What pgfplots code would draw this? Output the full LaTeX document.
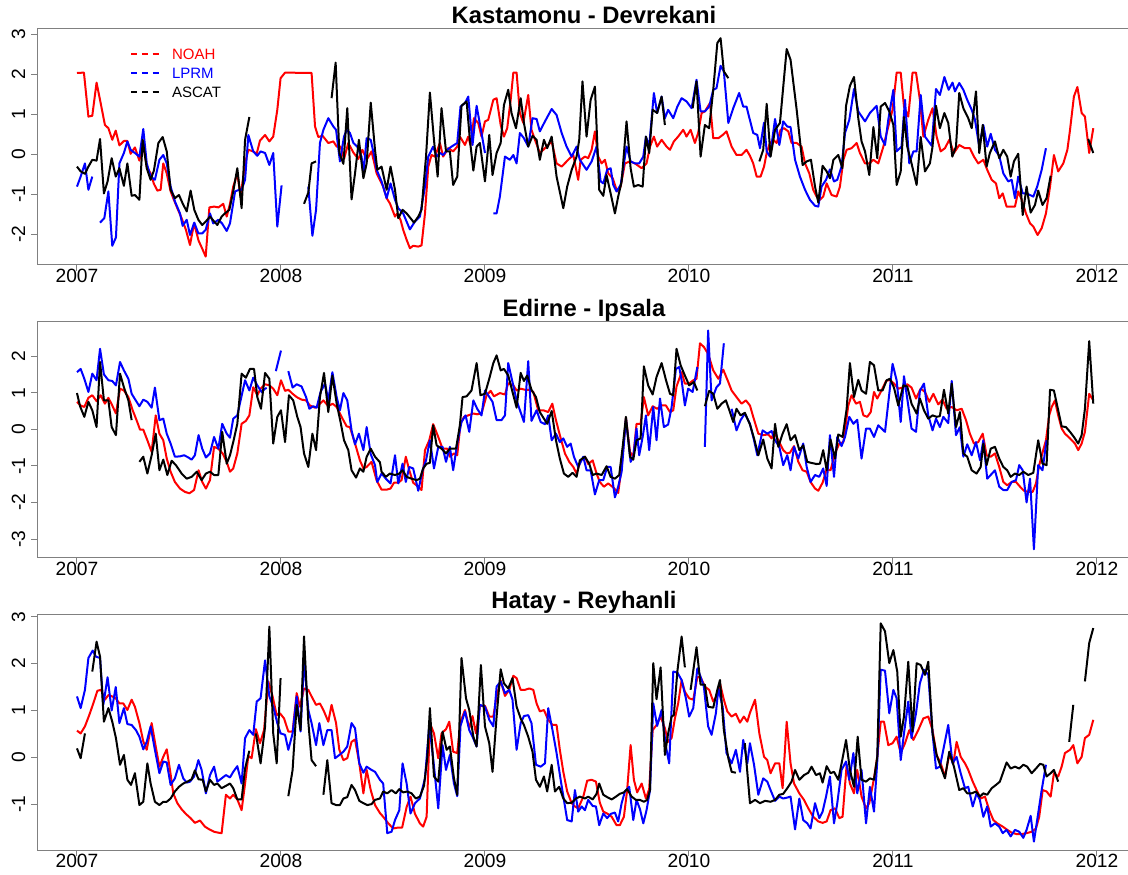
\documentclass[border=0pt]{standalone}
\usepackage{fontspec}
\setmainfont{Liberation Sans}
\usepackage{pgfplots}
\usepackage{pgfplotstable}
\pgfplotsset{compat=1.18}

% ---------------- Panel A: Kastamonu - Devrekani ----------------
\pgfplotstableread[row sep=\\]{x y\\
2007.000 2.03\\2007.034 2.04\\2007.056 0.94\\2007.075 0.96\\2007.096 1.79\\2007.116 1.28\\2007.137 0.73\\2007.154 0.65\\2007.173 0.36\\2007.190 0.59\\2007.208 0.22\\2007.230 0.33\\2007.247 0.33\\2007.263 0.01\\2007.284 0.17\\2007.306 -0.16\\2007.322 0.32\\2007.342 -0.31\\2007.361 -0.48\\2007.377 -0.74\\2007.394 -0.91\\2007.410 -0.89\\2007.423 -0.23\\2007.440 -0.48\\2007.459 -0.93\\2007.475 -1.14\\2007.492 -1.35\\2007.513 -1.60\\2007.534 -1.89\\2007.554 -2.27\\2007.574 -1.73\\2007.596 -2.16\\2007.613 -2.35\\2007.631 -2.56\\2007.649 -1.33\\2007.672 -1.31\\2007.694 -1.33\\2007.717 -1.24\\2007.734 -1.56\\2007.750 -1.24\\2007.766 -0.81\\2007.786 -0.48\\2007.802 -1.06\\2007.824 -0.23\\2007.840 0.11\\2007.864 0.07\\2007.881 0.01\\2007.897 0.34\\2007.922 0.48\\2007.943 0.32\\2007.962 0.44\\2007.982 1.11\\2007.998 1.90\\2008.020 2.04\\2008.150 2.03\\2008.167 0.69\\2008.183 0.43\\2008.204 0.46\\2008.232 0.28\\2008.257 0.32\\2008.273 0.19\\2008.292 0.19\\2008.309 -0.12\\2008.330 0.28\\2008.355 0.04\\2008.379 -0.12\\2008.399 0.11\\2008.420 -0.14\\2008.444 0.07\\2008.469 -0.48\\
2008.501 -0.81\\2008.518 -1.10\\2008.534 -1.23\\2008.559 -1.56\\2008.570 -1.48\\2008.586 -1.64\\2008.599 -1.89\\2008.616 -2.14\\2008.632 -2.35\\2008.648 -2.29\\2008.673 -2.31\\2008.689 -2.28\\2008.706 -1.48\\2008.722 -0.31\\2008.738 -0.02\\2008.755 -0.06\\2008.779 0.28\\2008.795 -0.06\\2008.820 0.15\\2008.844 0.07\\2008.864 0.19\\2008.877 0.44\\2008.902 0.23\\2008.918 0.44\\2008.929 0.23\\2008.946 0.90\\2008.967 0.78\\2008.983 0.44\\2009.000 0.82\\2009.016 0.86\\2009.041 1.36\\2009.057 1.40\\2009.077 0.73\\2009.093 0.44\\2009.109 0.65\\2009.126 1.36\\2009.139 2.04\\2009.155 2.04\\2009.171 1.03\\2009.188 0.78\\2009.212 1.48\\2009.228 0.61\\2009.245 0.36\\2009.269 0.03\\2009.286 0.11\\2009.302 0.19\\2009.327 0.32\\2009.351 -0.23\\2009.376 -0.31\\2009.408 -0.14\\2009.433 -0.02\\2009.457 -0.64\\2009.469 -0.14\\2009.490 -0.06\\2009.506 -0.10\\2009.523 0.11\\2009.539 0.57\\2009.555 -0.06\\2009.572 -0.23\\2009.588 -0.14\\2009.604 -0.48\\2009.626 -0.60\\2009.648 -0.93\\2009.665 -0.81\\2009.686 -0.23\\2009.711 -0.18\\2009.735 -0.23\\2009.768 -0.35\\2009.792 -0.23\\2009.809 0.19\\2009.828 0.44\\2009.844 0.19\\2009.866 0.36\\2009.890 0.19\\2009.907 0.11\\2009.926 0.32\\2009.947 0.44\\2009.972 0.61\\2009.988 0.44\\2010.008 0.61\\2010.029 0.28\\2010.045 0.53\\2010.062 1.03\\2010.078 1.07\\2010.103 1.28\\2010.119 0.40\\2010.144 0.40\\2010.165 0.48\\2010.184 0.57\\2010.209 0.19\\2010.233 -0.02\\2010.258 -0.02\\2010.282 0.11\\2010.299 -0.04\\
2010.315 -0.23\\2010.332 -0.56\\2010.351 -0.56\\2010.368 -0.31\\2010.381 0.03\\2010.397 0.28\\2010.413 0.36\\2010.430 0.28\\2010.449 0.61\\2010.466 0.65\\2010.487 0.57\\2010.503 0.28\\2010.528 0.28\\2010.552 0.19\\2010.569 -0.23\\2010.590 -0.48\\2010.609 -0.89\\2010.626 -1.06\\2010.642 -1.14\\2010.658 -1.06\\2010.675 -0.73\\2010.699 -1.02\\2010.724 -1.06\\2010.740 -0.81\\2010.757 -0.14\\2010.773 0.11\\2010.797 0.15\\2010.822 0.28\\2010.838 0.03\\2010.863 -0.23\\2010.884 -0.23\\2010.904 -0.14\\2010.928 -0.23\\2010.953 0.19\\2010.977 0.69\\2010.998 1.11\\2011.018 2.04\\2011.038 2.04\\2011.054 1.19\\2011.075 0.94\\2011.096 2.04\\2011.113 2.04\\2011.132 1.36\\2011.149 0.44\\2011.173 0.86\\2011.194 1.15\\2011.214 0.44\\2011.234 0.07\\2011.255 0.15\\2011.276 0.36\\2011.299 0.03\\2011.325 0.23\\2011.353 0.15\\2011.377 0.15\\2011.397 -0.06\\2011.418 -0.23\\2011.443 -0.14\\2011.462 -0.39\\2011.484 -0.64\\2011.505 -0.73\\2011.521 -1.10\\2011.538 -0.98\\2011.557 -1.31\\2011.574 -1.31\\2011.598 -1.31\\2011.614 -0.93\\2011.631 -1.14\\2011.652 -1.48\\2011.672 -1.73\\2011.688 -1.81\\2011.709 -2.02\\2011.729 -1.85\\2011.750 -1.48\\2011.770 -0.81\\2011.789 -0.02\\2011.810 -0.43\\2011.835 -0.23\\2011.855 0.11\\2011.868 0.61\\2011.887 1.44\\2011.904 1.68\\2011.925 1.03\\2011.941 0.94\\2011.962 0.03\\2011.982 0.65\\
}\pAn

\pgfplotstableread[row sep=\\]{x y\\
2007.000 -0.81\\2007.018 -0.56\\2007.039 -0.23\\2007.056 -0.89\\2007.075 -0.56\\nan nan\\
2007.113 -1.71\\2007.134 -1.60\\2007.154 -0.93\\2007.173 -2.29\\2007.191 -2.08\\2007.208 -0.23\\2007.230 0.03\\2007.247 0.32\\2007.263 0.11\\2007.284 0.03\\2007.306 -0.06\\2007.325 0.63\\2007.342 -0.23\\2007.361 -0.56\\2007.382 -0.64\\2007.404 -0.14\\2007.423 -0.02\\2007.440 -0.23\\2007.459 -0.81\\2007.480 -1.18\\2007.505 -1.48\\2007.518 -1.79\\2007.538 -1.64\\2007.554 -2.02\\2007.575 -1.71\\2007.595 -1.98\\2007.614 -1.98\\2007.631 -1.89\\2007.652 -1.48\\2007.668 -1.73\\2007.693 -1.64\\2007.711 -1.73\\2007.734 -1.92\\2007.750 -1.73\\2007.775 -0.93\\2007.796 -0.89\\2007.807 -0.89\\2007.824 -0.64\\2007.840 0.48\\2007.864 0.07\\2007.884 -0.04\\2007.900 0.07\\2007.922 0.03\\2007.943 -0.27\\2007.962 0.03\\2007.982 -1.81\\2008.003 -0.78\\nan nan\\
2008.134 -0.81\\2008.154 -2.04\\2008.172 -1.39\\2008.191 0.28\\2008.208 0.61\\2008.232 0.90\\2008.257 0.69\\2008.270 0.61\\2008.289 -0.18\\2008.309 0.44\\2008.322 0.61\\2008.338 0.53\\2008.355 0.28\\2008.374 0.19\\2008.395 -0.06\\2008.404 -0.48\\2008.420 0.40\\2008.440 0.36\\2008.461 -0.14\\2008.469 -0.39\\2008.493 -0.68\\2008.518 -1.10\\2008.537 -0.73\\2008.559 -1.14\\2008.575 -1.35\\2008.599 -1.48\\2008.632 -1.88\\2008.657 -1.68\\2008.681 -1.56\\2008.706 -0.81\\2008.722 -0.06\\2008.746 0.19\\2008.763 -0.06\\2008.779 0.03\\2008.795 -0.02\\2008.815 0.11\\2008.836 0.19\\2008.864 0.28\\2008.880 1.19\\2008.902 1.28\\2008.918 1.44\\2008.939 0.23\\2008.959 1.21\\2008.983 0.53\\2009.000 0.03\\nan nan\\
2009.041 -1.48\\2009.057 -1.48\\2009.073 -1.06\\2009.098 -0.06\\2009.122 -0.14\\2009.139 -0.02\\2009.155 -0.23\\2009.171 0.53\\2009.191 0.40\\2009.212 0.19\\2009.233 0.90\\2009.253 0.88\\2009.269 0.57\\2009.294 0.82\\2009.327 1.13\\2009.351 0.98\\2009.376 0.53\\2009.400 0.19\\2009.425 -0.06\\2009.449 0.19\\2009.465 -0.14\\2009.498 -0.39\\2009.523 -0.18\\2009.547 0.19\\2009.567 -0.68\\2009.580 -0.73\\2009.599 -0.39\\2009.616 -0.35\\2009.629 -0.77\\2009.645 -0.93\\2009.665 -0.77\\2009.694 0.19\\2009.714 -0.18\\2009.735 -0.23\\2009.756 -0.23\\2009.776 -0.06\\2009.789 0.44\\2009.805 0.19\\2009.828 1.53\\2009.844 1.03\\2009.866 1.44\\2009.882 0.90\\2009.898 1.11\\2009.923 0.90\\2009.943 1.19\\2009.964 1.40\\2009.988 1.32\\2010.013 1.15\\2010.037 1.86\\2010.057 1.07\\2010.078 1.07\\2010.099 1.19\\2010.119 1.61\\2010.135 1.65\\2010.155 2.21\\2010.171 2.07\\2010.193 0.78\\2010.217 1.15\\2010.246 1.53\\2010.266 1.19\\2010.282 1.19\\2010.299 0.85\\
2010.315 0.53\\2010.335 0.48\\2010.348 0.15\\2010.368 0.79\\2010.381 0.07\\2010.397 -0.06\\2010.422 0.88\\2010.443 0.23\\2010.462 0.82\\2010.482 0.69\\2010.498 0.68\\2010.520 -0.14\\2010.544 -0.56\\2010.569 -0.89\\2010.593 -1.14\\2010.618 -1.29\\2010.634 -1.31\\2010.650 -0.81\\2010.672 -0.64\\2010.691 -0.38\\2010.711 -0.68\\2010.727 -0.64\\2010.748 -0.31\\2010.765 0.53\\2010.786 0.86\\2010.809 1.63\\2010.830 1.07\\2010.863 0.82\\2010.887 1.03\\2010.920 1.21\\2010.940 0.44\\2010.961 0.23\\2010.977 0.86\\2011.002 1.61\\2011.018 0.07\\2011.042 0.19\\2011.059 1.36\\2011.080 -0.23\\2011.100 0.07\\2011.116 0.07\\2011.136 1.48\\2011.157 0.44\\2011.190 0.21\\2011.211 1.63\\2011.230 1.48\\2011.252 1.93\\2011.273 1.61\\2011.292 1.79\\2011.304 1.57\\2011.325 1.78\\2011.345 1.61\\2011.364 1.36\\2011.386 1.11\\2011.402 0.86\\2011.423 0.19\\2011.443 0.73\\2011.462 0.19\\2011.479 0.51\\2011.500 0.11\\2011.521 -0.04\\2011.541 -0.48\\2011.565 -0.68\\2011.582 -0.64\\2011.598 -1.10\\2011.614 -0.56\\2011.636 -0.98\\2011.655 -0.98\\2011.688 -1.06\\2011.707 -0.81\\2011.729 -0.39\\2011.750 0.15\\
}\pAl

\pgfplotstableread[row sep=\\]{x y\\
2007.000 -0.31\\2007.018 -0.43\\2007.039 -0.49\\2007.056 -0.31\\2007.075 -0.14\\2007.096 -0.16\\2007.113 0.38\\2007.132 -0.98\\2007.150 -0.68\\2007.170 -0.10\\2007.190 -0.56\\2007.208 -0.35\\2007.230 -0.79\\2007.247 -0.23\\2007.268 -1.04\\2007.284 -1.02\\2007.306 -1.14\\2007.322 0.36\\2007.342 -0.35\\2007.361 -0.64\\2007.377 -0.41\\2007.399 0.28\\2007.420 0.43\\2007.440 0.07\\2007.459 -0.89\\2007.480 -1.10\\2007.500 -1.02\\2007.518 -1.23\\2007.538 -1.43\\2007.557 -0.91\\2007.575 -1.39\\2007.595 -1.64\\2007.614 -1.77\\2007.632 -1.68\\2007.652 -1.56\\2007.672 -1.68\\2007.688 -1.77\\2007.709 -1.56\\2007.725 -1.48\\2007.747 -1.39\\2007.766 -0.93\\2007.786 -0.35\\2007.807 -1.35\\2007.824 0.36\\2007.845 0.93\\nan nan\\
2008.113 -1.24\\2008.134 -0.96\\2008.150 -0.23\\2008.172 -0.18\\nan nan\\
2008.248 1.40\\2008.268 2.29\\2008.286 0.03\\2008.306 -0.24\\2008.325 1.15\\2008.346 -1.13\\2008.363 -0.48\\2008.382 0.36\\2008.404 -0.60\\2008.420 -0.23\\2008.440 1.29\\2008.461 0.11\\2008.472 -0.39\\2008.493 -0.31\\2008.518 -0.89\\2008.537 -0.31\\2008.559 -0.89\\2008.575 -1.60\\2008.596 -1.39\\2008.616 -1.48\\2008.635 -1.60\\2008.652 -1.71\\2008.673 -1.56\\2008.689 -1.39\\2008.711 -0.06\\2008.730 1.54\\2008.750 0.36\\2008.768 -0.56\\2008.787 1.15\\2008.809 0.07\\2008.828 0.07\\2008.844 -0.77\\2008.864 -0.56\\2008.885 1.21\\2008.910 1.32\\2008.926 0.36\\2008.943 -0.41\\2008.959 0.19\\2008.975 0.28\\2009.000 -0.68\\2009.021 0.48\\2009.037 -0.52\\2009.057 0.03\\2009.077 0.28\\2009.093 1.23\\2009.114 1.61\\2009.130 1.03\\2009.152 0.65\\2009.175 1.40\\2009.191 0.78\\2009.212 0.19\\2009.233 0.46\\2009.253 0.36\\2009.269 -0.14\\2009.289 0.36\\2009.305 0.15\\2009.327 0.44\\2009.351 -0.56\\2009.384 -1.35\\2009.403 -0.81\\2009.425 -0.39\\2009.449 -0.06\\2009.462 0.36\\2009.478 1.82\\2009.498 0.44\\2009.518 1.36\\2009.539 1.69\\2009.560 -0.89\\2009.580 -1.04\\2009.596 -0.52\\2009.616 -0.98\\2009.637 -1.48\\2009.653 -1.06\\2009.670 -0.68\\2009.694 0.82\\2009.714 -0.35\\2009.730 -0.81\\2009.751 -0.77\\2009.773 -0.81\\2009.789 0.44\\2009.805 0.03\\2009.822 1.11\\2009.844 1.03\\2009.866 1.44\\2009.882 0.73\\nan nan\\
2010.018 1.15\\2010.037 1.82\\2010.057 -0.06\\2010.078 0.73\\2010.099 0.65\\2010.119 1.61\\2010.139 2.78\\2010.155 2.90\\2010.171 2.07\\2010.193 1.90\\nan nan\\
2010.345 -0.18\\2010.364 0.11\\2010.381 1.26\\2010.400 -0.06\\2010.422 0.61\\2010.446 0.78\\2010.479 2.63\\2010.498 2.36\\2010.528 1.11\\2010.557 -0.27\\2010.577 -0.18\\2010.598 -0.14\\2010.618 -0.81\\2010.634 -1.21\\2010.655 -0.29\\2010.675 -0.43\\2010.691 -0.60\\2010.708 -0.14\\2010.732 -0.02\\2010.752 -0.35\\2010.770 1.21\\2010.789 1.71\\2010.809 1.93\\2010.830 0.90\\2010.846 0.32\\2010.863 0.07\\2010.884 -0.52\\2010.904 0.68\\2010.923 -0.10\\2010.940 1.19\\2010.961 1.28\\2010.982 1.07\\2011.002 0.73\\2011.018 -0.77\\2011.038 -0.43\\2011.054 0.93\\2011.070 0.19\\2011.091 -0.23\\2011.116 -0.77\\2011.136 0.43\\2011.157 -0.43\\2011.181 -0.23\\2011.194 0.19\\2011.211 1.21\\2011.230 0.65\\2011.252 1.03\\2011.271 0.78\\2011.291 -0.06\\2011.309 0.19\\2011.325 1.53\\2011.345 1.15\\2011.369 0.90\\2011.386 0.65\\2011.407 1.57\\2011.423 0.03\\2011.440 0.73\\2011.459 -0.31\\2011.475 0.03\\2011.500 0.32\\2011.521 -0.10\\2011.541 0.11\\2011.560 -0.06\\2011.577 -0.56\\2011.593 -0.18\\2011.614 0.01\\2011.636 -1.52\\2011.655 -0.81\\2011.675 -1.46\\2011.696 -1.27\\2011.712 -0.91\\2011.733 -1.27\\2011.753 -1.10\\2011.773 -0.54\\nan nan\\
2011.957 0.38\\2011.982 0.03\\
}\pAa

% ---------------- Panel B: Edirne - Ipsala ----------------
\pgfplotstableread[row sep=\\]{x y\\
2007.000 0.75\\2007.018 0.65\\2007.036 0.61\\2007.056 0.86\\2007.075 0.93\\2007.096 0.77\\2007.116 0.93\\2007.137 0.70\\2007.154 0.86\\2007.173 0.65\\2007.191 0.43\\2007.211 1.11\\2007.230 1.06\\2007.252 0.88\\2007.273 0.52\\2007.292 0.25\\2007.309 -0.01\\2007.325 -0.01\\2007.345 -0.30\\2007.366 -0.62\\2007.386 0.38\\2007.404 -0.12\\2007.423 -0.30\\2007.440 -0.80\\2007.459 -1.16\\2007.480 -1.44\\2007.505 -1.62\\2007.529 -1.71\\2007.551 -1.75\\2007.574 -1.66\\2007.596 -1.12\\2007.614 -1.44\\2007.632 -1.62\\2007.652 -1.39\\2007.672 -0.48\\2007.693 -0.53\\2007.714 -0.66\\2007.734 -0.89\\2007.750 -1.16\\2007.766 -1.07\\2007.786 -0.66\\2007.807 0.15\\2007.828 0.23\\2007.845 0.38\\2007.864 1.15\\2007.884 0.93\\2007.900 1.11\\2007.922 1.23\\2007.943 1.20\\2007.962 1.11\\2007.982 0.93\\2008.000 1.34\\2008.020 1.05\\2008.036 1.08\\2008.057 0.97\\2008.077 0.88\\2008.101 0.81\\2008.123 0.79\\2008.142 0.65\\2008.167 0.59\\2008.188 0.68\\2008.208 0.79\\2008.232 0.63\\2008.253 0.70\\2008.273 0.61\\2008.297 0.34\\2008.322 0.08\\2008.338 0.06\\2008.363 -0.39\\2008.387 -0.85\\2008.404 -1.07\\2008.420 -1.03\\2008.444 -0.89\\2008.469 -1.40\\
2008.493 -1.65\\2008.518 -1.65\\2008.537 -1.62\\2008.554 -1.46\\2008.575 -1.46\\2008.591 -1.39\\2008.612 -0.75\\2008.629 -1.12\\2008.648 -1.46\\2008.673 -1.57\\2008.689 -1.66\\2008.706 -0.57\\2008.727 -0.30\\2008.746 0.14\\2008.771 -0.21\\2008.792 -0.53\\2008.815 -0.53\\2008.828 -0.75\\2008.848 -0.66\\2008.864 -0.71\\2008.880 0.15\\2008.897 0.34\\2008.918 0.38\\2008.943 0.43\\2008.962 0.41\\2008.983 0.43\\2009.008 0.93\\2009.028 1.05\\2009.044 0.90\\2009.073 0.99\\2009.098 0.95\\2009.114 1.26\\2009.139 1.20\\2009.155 1.06\\2009.175 1.11\\2009.196 1.08\\2009.217 1.08\\2009.237 1.02\\2009.261 0.52\\2009.286 0.52\\2009.310 0.47\\2009.330 0.70\\2009.348 0.25\\2009.367 -0.16\\2009.392 -0.66\\2009.413 -0.89\\2009.433 -1.03\\2009.449 -1.21\\2009.469 -0.85\\2009.490 -0.75\\2009.506 -0.95\\2009.528 -0.85\\2009.547 -1.21\\2009.563 -1.44\\2009.583 -1.57\\2009.604 -1.48\\2009.629 -1.59\\2009.653 -1.74\\2009.670 -1.03\\2009.691 0.32\\2009.711 -0.62\\2009.727 -0.75\\2009.743 0.15\\2009.763 0.15\\2009.779 0.88\\2009.800 0.38\\2009.822 0.63\\2009.844 0.56\\2009.866 0.65\\2009.887 0.65\\2009.907 0.47\\2009.923 0.52\\2009.939 1.17\\2009.964 1.56\\2009.980 1.25\\2010.001 1.25\\2010.021 1.34\\2010.037 1.38\\2010.054 2.35\\2010.073 2.25\\2010.094 2.06\\2010.119 1.61\\2010.144 1.38\\2010.168 1.63\\2010.193 1.29\\2010.209 1.06\\2010.233 0.88\\2010.258 0.70\\2010.279 0.79\\2010.299 0.65\\
2010.315 0.34\\2010.340 -0.12\\2010.364 -0.16\\2010.389 -0.14\\2010.405 -0.25\\2010.417 -0.07\\2010.438 -0.30\\2010.462 -0.57\\2010.479 -0.66\\2010.495 -0.64\\2010.515 -0.46\\2010.536 -0.89\\2010.557 -1.12\\2010.577 -1.16\\2010.596 -1.44\\2010.618 -1.62\\2010.634 -1.68\\2010.655 -1.46\\2010.675 -1.10\\2010.694 -1.12\\2010.716 -0.66\\2010.737 -0.39\\2010.757 -0.35\\2010.781 0.65\\2010.797 0.93\\2010.819 0.70\\2010.838 0.75\\2010.855 0.38\\2010.874 0.34\\2010.891 0.47\\2010.907 1.02\\2010.923 0.84\\2010.944 1.06\\2010.966 1.32\\2010.985 1.35\\2011.005 1.25\\2011.026 1.11\\2011.047 1.14\\2011.070 1.23\\2011.091 1.14\\2011.113 0.84\\2011.136 1.11\\2011.157 1.02\\2011.178 0.75\\2011.198 0.97\\2011.222 0.68\\2011.243 0.81\\2011.263 0.56\\2011.288 0.61\\2011.312 0.52\\2011.337 0.56\\2011.358 0.25\\2011.377 -0.12\\2011.397 -0.39\\2011.418 -0.35\\2011.440 -0.12\\2011.459 -0.71\\2011.479 -0.75\\2011.500 -0.66\\2011.521 -1.03\\2011.541 -1.44\\2011.560 -1.53\\2011.582 -1.44\\2011.603 -1.44\\2011.623 -1.57\\2011.642 -1.68\\2011.663 -1.71\\2011.685 -1.71\\2011.701 -1.48\\2011.717 -0.98\\2011.734 -0.62\\2011.750 -0.30\\2011.766 0.38\\2011.778 0.61\\2011.794 0.79\\2011.810 0.38\\2011.827 0.02\\2011.843 -0.12\\2011.868 -0.25\\2011.892 -0.39\\2011.908 -0.57\\2011.925 -0.39\\2011.941 -0.07\\2011.962 0.97\\2011.982 0.79\\
}\pBn

\pgfplotstableread[row sep=\\]{x y\\
2007.000 1.56\\2007.018 1.65\\2007.036 1.38\\2007.056 1.02\\2007.075 1.52\\2007.096 1.34\\2007.113 2.20\\2007.132 1.50\\2007.154 1.34\\2007.173 1.32\\2007.191 1.20\\2007.211 1.84\\2007.230 1.61\\2007.252 1.38\\2007.268 0.97\\2007.288 0.79\\2007.306 0.63\\2007.325 0.81\\2007.345 0.75\\2007.366 0.59\\2007.382 1.14\\2007.404 0.25\\2007.423 0.29\\2007.440 -0.12\\2007.459 -0.39\\2007.480 -0.75\\2007.505 -0.74\\2007.525 -0.71\\2007.546 -0.77\\2007.562 -0.83\\2007.578 -0.71\\2007.596 -0.16\\2007.614 -0.53\\2007.632 -0.77\\2007.652 -0.66\\2007.672 -0.21\\2007.693 -0.53\\2007.712 0.15\\2007.734 -0.12\\2007.750 -0.23\\2007.766 0.29\\2007.786 0.38\\2007.802 0.79\\2007.824 1.34\\2007.845 1.06\\2007.864 1.41\\2007.884 1.20\\2007.905 1.02\\2007.922 1.11\\2007.930 1.13\\nan nan\\
2007.975 1.59\\2008.000 2.15\\nan nan\\
2008.036 1.59\\2008.057 1.14\\2008.077 1.23\\2008.101 1.17\\2008.123 0.88\\2008.139 0.56\\2008.158 0.63\\2008.175 0.59\\2008.194 1.02\\2008.216 1.25\\2008.232 0.79\\2008.252 1.56\\2008.273 0.88\\2008.289 0.52\\2008.306 0.99\\2008.325 0.79\\2008.346 -0.03\\2008.363 -0.41\\2008.382 -0.12\\2008.404 -0.57\\2008.420 0.06\\2008.440 -0.68\\2008.461 -0.98\\
2008.472 -1.44\\2008.493 -1.21\\2008.514 -1.35\\2008.537 -1.48\\2008.559 -0.71\\2008.575 -1.48\\2008.596 -0.94\\2008.612 -1.44\\2008.629 -1.03\\2008.648 -1.07\\2008.673 -1.68\\2008.694 -1.12\\2008.711 -0.85\\2008.730 -0.30\\2008.750 -1.07\\2008.771 -0.48\\2008.792 -0.48\\2008.809 -0.89\\2008.828 -0.48\\2008.844 -1.12\\2008.864 -0.39\\2008.885 0.20\\2008.905 0.38\\2008.923 -0.07\\2008.943 0.79\\2008.962 0.56\\2008.983 0.38\\2009.000 1.06\\2009.037 0.75\\2009.057 0.25\\2009.081 0.25\\2009.098 0.38\\2009.114 1.81\\2009.155 0.79\\2009.191 0.20\\2009.212 1.86\\2009.228 0.23\\2009.253 0.52\\2009.273 0.20\\2009.294 0.14\\2009.310 0.38\\2009.327 -0.30\\2009.348 -0.12\\2009.367 -0.35\\2009.384 -0.25\\2009.403 -0.48\\2009.420 -0.39\\2009.436 -0.75\\2009.457 -1.03\\2009.482 -0.75\\2009.498 -1.12\\2009.518 -1.12\\2009.539 -1.78\\2009.560 -1.39\\2009.580 -1.39\\2009.599 -1.03\\2009.616 -1.03\\2009.637 -1.86\\2009.653 -1.57\\2009.670 -1.16\\2009.691 0.29\\2009.714 -0.89\\2009.727 -0.75\\2009.743 0.02\\2009.756 -0.71\\2009.773 -0.21\\2009.789 0.38\\2009.805 -0.57\\2009.825 0.61\\2009.841 -0.30\\2009.858 0.84\\2009.877 0.06\\2009.898 0.13\\2009.915 0.61\\2009.936 1.65\\2009.952 1.70\\2009.964 1.34\\2009.980 0.65\\2009.996 1.11\\2010.018 1.02\\2010.041 1.70\\nan nan\\
2010.078 -0.48\\2010.094 2.70\\2010.111 0.79\\2010.135 1.15\\2010.152 1.25\\2010.171 2.35\\nan nan\\
2010.209 0.56\\2010.233 -0.03\\2010.253 0.25\\2010.274 0.43\\2010.299 0.15\\
2010.319 -0.30\\2010.335 -0.71\\2010.361 -0.03\\2010.384 -0.12\\2010.405 -0.05\\2010.422 -0.30\\2010.443 -0.48\\2010.462 -0.98\\2010.482 -0.71\\2010.498 -1.12\\2010.515 -0.48\\2010.536 -0.80\\2010.560 -0.39\\2010.577 -1.03\\2010.596 -1.44\\2010.618 -1.25\\2010.639 -1.30\\2010.658 -1.07\\2010.675 -1.55\\2010.691 -0.16\\2010.711 -1.30\\2010.727 -0.21\\2010.748 -0.46\\2010.765 -0.21\\2010.786 0.34\\2010.806 0.15\\2010.825 0.26\\2010.846 -0.80\\2010.868 0.02\\2010.887 0.02\\2010.907 -0.21\\2010.928 0.11\\2010.961 -0.07\\2010.982 0.97\\2010.998 1.79\\2011.018 1.34\\2011.038 0.20\\2011.054 1.45\\2011.070 0.84\\2011.091 0.02\\2011.113 -0.07\\2011.132 1.05\\2011.152 1.25\\2011.173 0.38\\2011.194 -0.03\\2011.211 0.29\\2011.230 0.06\\2011.247 0.34\\2011.271 0.17\\2011.288 1.32\\2011.309 -0.16\\2011.328 0.06\\2011.345 -0.75\\2011.364 -0.41\\2011.386 -0.71\\2011.407 -0.35\\2011.427 -0.85\\2011.443 -0.30\\2011.462 -1.35\\2011.479 -1.25\\2011.500 -1.12\\2011.521 -1.57\\2011.541 -1.66\\2011.560 -1.66\\2011.582 -1.44\\2011.603 -1.39\\2011.619 -0.98\\2011.636 -1.12\\2011.655 -2.00\\2011.672 -1.35\\2011.691 -3.28\\2011.712 -0.98\\2011.733 -1.12\\2011.753 -0.30\\
}\pBl

\pgfplotstableread[row sep=\\]{x y\\
2007.000 0.99\\2007.015 0.63\\2007.036 0.34\\2007.056 0.75\\2007.075 0.52\\2007.096 0.06\\2007.113 1.84\\2007.132 0.79\\2007.154 0.79\\2007.170 0.06\\2007.191 -0.16\\2007.211 1.52\\2007.230 1.15\\2007.252 0.79\\2007.268 0.25\\nan nan\\
2007.306 -0.89\\2007.325 -0.75\\2007.345 -1.21\\2007.366 -0.71\\2007.386 -0.12\\2007.404 -1.12\\2007.423 -0.83\\2007.443 -1.25\\2007.464 -0.86\\2007.485 -0.98\\2007.513 -1.21\\2007.538 -1.35\\2007.562 -1.30\\2007.587 -1.16\\2007.611 -1.39\\2007.632 -1.21\\2007.652 -1.16\\2007.672 -1.25\\2007.693 -1.25\\2007.712 -0.07\\2007.734 -0.94\\2007.750 -0.71\\2007.766 -0.35\\2007.786 0.15\\2007.807 1.52\\2007.828 1.41\\2007.848 1.65\\2007.868 1.65\\2007.884 0.88\\2007.902 0.56\\2007.922 1.54\\2007.943 1.38\\2007.962 -0.39\\2007.982 0.34\\2008.000 0.52\\2008.020 -0.35\\2008.039 0.93\\2008.060 0.79\\2008.080 0.34\\2008.096 0.06\\2008.113 -0.66\\2008.134 -1.03\\2008.154 -0.12\\2008.172 -0.57\\2008.191 0.88\\2008.211 1.54\\2008.232 0.47\\2008.252 1.47\\2008.273 0.70\\2008.292 0.20\\2008.309 -0.30\\2008.330 -0.57\\2008.346 -1.12\\2008.368 -1.32\\2008.387 -1.07\\2008.404 -1.16\\2008.420 -0.75\\2008.440 -0.53\\2008.461 -0.75\\2008.485 -0.90\\
2008.493 -1.16\\2008.514 -1.30\\2008.534 -1.21\\2008.559 -1.25\\2008.580 -1.21\\2008.596 -1.12\\2008.616 -1.30\\2008.640 -1.35\\2008.665 -1.39\\2008.681 -1.35\\2008.697 -1.07\\2008.714 -0.94\\2008.730 -0.92\\2008.746 0.11\\2008.763 -0.44\\2008.787 -0.53\\2008.809 -0.66\\2008.828 -0.53\\2008.858 -0.53\\2008.877 0.11\\2008.890 0.88\\2008.910 0.90\\2008.934 1.06\\2008.959 1.81\\2008.978 0.93\\2009.000 0.97\\2009.021 1.38\\2009.041 1.81\\2009.057 2.02\\2009.077 1.61\\2009.093 1.65\\2009.114 1.47\\2009.135 1.02\\2009.155 0.59\\2009.175 1.54\\2009.191 1.32\\2009.207 1.47\\2009.228 1.08\\2009.250 0.88\\2009.269 0.47\\2009.289 0.29\\2009.305 0.15\\2009.327 0.50\\2009.348 -0.30\\2009.367 -0.80\\2009.387 -1.21\\2009.408 -1.30\\2009.429 -1.19\\2009.449 -1.30\\2009.465 -0.85\\2009.490 -0.75\\2009.511 -0.94\\2009.528 -1.25\\2009.547 -1.21\\2009.572 -1.25\\2009.596 -1.01\\2009.616 -1.30\\2009.637 -1.35\\2009.658 -1.25\\2009.675 -0.48\\2009.691 0.34\\2009.711 -0.75\\2009.727 -0.83\\2009.743 -0.30\\2009.763 -0.25\\2009.779 1.72\\2009.800 1.20\\2009.822 0.95\\2009.841 1.43\\2009.866 1.81\\2009.887 1.35\\2009.907 0.97\\2009.923 0.93\\2009.939 2.20\\2009.959 1.75\\2009.980 1.47\\2010.001 1.20\\2010.024 1.29\\2010.041 1.06\\nan nan\\
2010.078 0.63\\2010.099 1.05\\2010.119 0.97\\2010.139 0.56\\2010.160 0.70\\2010.181 0.79\\2010.201 0.47\\2010.217 0.20\\2010.233 0.56\\2010.253 0.38\\2010.274 0.45\\2010.299 0.13\\
2010.319 -0.25\\2010.340 -0.71\\2010.364 -0.28\\2010.384 -0.80\\2010.405 -1.07\\2010.422 0.15\\2010.438 -0.48\\2010.459 -0.12\\2010.479 0.14\\2010.498 -0.30\\2010.520 -0.16\\2010.541 -0.57\\2010.560 -0.44\\2010.580 -0.89\\2010.601 -0.92\\2010.626 -0.95\\2010.642 -0.94\\2010.658 -0.57\\2010.675 -1.12\\2010.694 -0.28\\2010.716 -0.80\\2010.732 -0.14\\2010.753 -0.21\\2010.773 0.56\\2010.789 1.81\\2010.809 0.88\\2010.830 1.35\\2010.846 1.06\\2010.868 0.97\\2010.887 1.84\\2010.907 1.75\\2010.928 1.06\\2010.949 1.06\\2010.969 1.34\\2010.985 1.38\\2011.005 1.14\\2011.026 0.65\\2011.051 1.20\\2011.070 1.17\\2011.091 0.70\\2011.116 0.43\\2011.132 0.84\\2011.152 0.52\\2011.173 0.29\\2011.194 0.38\\2011.214 0.34\\2011.230 0.36\\2011.250 1.08\\2011.271 0.43\\2011.288 1.25\\2011.309 0.06\\2011.328 0.47\\2011.345 -0.66\\2011.364 -0.75\\2011.386 -1.12\\2011.410 -1.21\\2011.430 -1.03\\2011.443 -0.39\\2011.459 -0.98\\2011.479 -0.53\\2011.500 -0.48\\2011.521 -0.80\\2011.541 -1.03\\2011.560 -1.12\\2011.577 -1.30\\2011.598 -1.21\\2011.619 -1.25\\2011.639 -1.16\\2011.663 -1.25\\2011.688 -1.19\\2011.712 -0.30\\2011.733 -0.94\\2011.753 -0.98\\2011.770 1.08\\2011.789 1.06\\2011.810 0.52\\2011.827 0.08\\2011.848 0.06\\2011.868 -0.07\\2011.887 -0.21\\2011.908 -0.39\\2011.925 -0.16\\2011.941 0.56\\2011.962 2.41\\2011.982 0.70\\
}\pBa

% ---------------- Panel C: Hatay - Reyhanli ----------------
\pgfplotstableread[row sep=\\]{x y\\
2007.000 0.57\\2007.018 0.51\\2007.039 0.66\\2007.060 0.90\\2007.080 1.15\\2007.100 1.42\\2007.118 1.44\\2007.137 1.23\\2007.154 1.33\\2007.173 1.30\\2007.190 1.26\\2007.208 1.15\\2007.227 1.15\\2007.247 1.01\\2007.268 1.23\\2007.284 1.08\\2007.306 0.73\\2007.325 0.34\\2007.342 0.16\\2007.366 0.73\\2007.386 0.23\\2007.404 -0.20\\2007.423 0.01\\2007.440 0.17\\2007.456 -0.27\\2007.472 -0.77\\2007.492 -0.98\\2007.513 -1.11\\2007.534 -1.21\\2007.557 -1.30\\2007.578 -1.40\\2007.603 -1.35\\2007.627 -1.48\\2007.649 -1.54\\2007.672 -1.59\\2007.693 -1.61\\2007.709 -1.62\\2007.730 -0.80\\2007.750 -0.88\\2007.766 -0.80\\2007.786 -0.90\\2007.807 -1.13\\2007.824 -0.56\\2007.840 0.03\\2007.856 -0.02\\2007.877 0.60\\2007.897 0.30\\2007.917 0.58\\2007.938 1.62\\2007.959 1.30\\2007.979 0.90\\2007.995 0.94\\2008.015 0.83\\2008.036 0.55\\2008.057 0.55\\2008.077 1.37\\2008.093 1.08\\2008.113 1.47\\2008.134 1.44\\2008.150 1.30\\2008.172 1.12\\2008.191 1.15\\2008.211 0.98\\2008.232 0.76\\2008.248 1.12\\2008.270 0.73\\2008.286 0.16\\2008.306 -0.06\\2008.325 -0.02\\2008.346 0.33\\2008.363 0.38\\2008.384 -0.13\\2008.404 -0.77\\2008.420 -0.27\\2008.440 -0.70\\2008.461 -1.02\\2008.485 -1.19\\
2008.501 -1.27\\2008.526 -1.41\\2008.550 -1.52\\2008.575 -1.50\\2008.594 -1.50\\2008.616 -1.06\\2008.635 -0.84\\2008.657 -1.21\\2008.681 -1.41\\2008.697 -1.48\\2008.714 -1.27\\2008.730 0.73\\2008.750 0.51\\2008.771 -0.02\\2008.787 0.51\\2008.809 0.60\\2008.825 0.76\\2008.844 0.12\\2008.864 0.09\\2008.880 0.76\\2008.902 1.01\\2008.923 0.62\\2008.939 0.88\\2008.956 0.51\\2008.975 1.10\\2009.000 1.10\\2009.021 0.87\\2009.041 0.87\\2009.057 1.30\\2009.077 1.64\\2009.098 1.31\\2009.119 1.44\\2009.139 1.74\\2009.155 1.69\\2009.175 1.44\\2009.196 1.44\\2009.217 1.47\\2009.237 1.44\\2009.253 1.15\\2009.269 0.98\\2009.289 1.01\\2009.310 0.80\\2009.331 0.69\\2009.351 0.69\\2009.367 0.16\\2009.384 -0.31\\2009.403 -0.73\\2009.425 -0.98\\2009.441 -1.05\\2009.457 -1.09\\2009.482 -0.84\\2009.501 -0.50\\2009.523 -0.48\\2009.544 -0.52\\2009.563 -0.97\\2009.580 -1.16\\2009.599 -1.20\\2009.621 -1.27\\2009.645 -1.45\\2009.661 -1.45\\2009.681 -1.27\\2009.697 -0.70\\2009.714 0.26\\2009.730 -0.48\\2009.746 -0.75\\2009.768 -0.56\\2009.789 -0.88\\2009.805 -0.68\\2009.822 0.58\\2009.841 0.69\\2009.861 0.87\\2009.882 0.62\\2009.898 0.33\\2009.915 0.41\\2009.931 0.83\\2009.947 1.15\\2009.964 1.65\\2009.980 1.40\\2010.001 1.26\\2010.021 1.23\\2010.041 1.71\\2010.057 1.71\\2010.078 1.51\\2010.099 1.44\\2010.119 1.19\\2010.139 1.33\\2010.152 1.58\\2010.171 1.23\\2010.188 0.98\\2010.209 0.87\\2010.230 0.93\\2010.250 0.74\\2010.269 0.87\\2010.286 0.76\\2010.299 0.95\\
2010.324 1.23\\2010.345 0.51\\2010.368 0.01\\2010.384 -0.06\\2010.400 -0.34\\2010.422 -0.13\\2010.443 -0.13\\2010.459 -0.66\\2010.479 0.76\\2010.498 -0.13\\2010.515 -0.56\\2010.541 -0.77\\2010.564 -0.91\\2010.585 -1.09\\2010.609 -1.27\\2010.634 -1.37\\2010.655 -1.40\\2010.675 -1.37\\2010.694 -1.13\\2010.716 -1.09\\2010.737 -1.30\\2010.753 -1.27\\2010.773 -0.16\\2010.789 -0.56\\2010.809 -0.77\\2010.825 -0.27\\2010.846 -0.84\\2010.868 -1.09\\2010.884 -0.98\\2010.907 -0.45\\2010.923 0.01\\2010.940 0.76\\2010.956 0.76\\2010.977 0.26\\2010.998 0.30\\2011.018 0.44\\2011.038 0.09\\2011.059 0.30\\2011.080 0.58\\2011.100 0.37\\2011.124 0.58\\2011.149 0.83\\2011.173 0.87\\2011.194 0.58\\2011.214 0.05\\2011.234 -0.13\\2011.255 -0.41\\2011.276 0.05\\2011.296 -0.13\\2011.312 0.33\\2011.332 0.01\\2011.353 -0.13\\2011.369 -0.27\\2011.391 -0.52\\2011.410 -0.70\\2011.430 -0.88\\2011.451 -0.84\\2011.472 -1.13\\2011.492 -1.34\\2011.511 -1.41\\2011.538 -1.48\\2011.557 -1.54\\2011.582 -1.61\\2011.606 -1.64\\2011.631 -1.64\\2011.655 -1.62\\2011.680 -1.59\\2011.701 -1.52\\2011.717 -1.27\\2011.734 -0.70\\2011.753 -0.73\\2011.773 -0.84\\2011.789 -0.34\\2011.810 -0.41\\2011.827 -0.20\\2011.843 0.09\\2011.868 0.16\\2011.884 0.26\\2011.904 -0.13\\2011.925 0.01\\2011.941 0.41\\2011.962 0.48\\2011.982 0.80\\
}\pCn

\pgfplotstableread[row sep=\\]{x y\\
2007.000 1.30\\2007.018 1.05\\2007.039 1.44\\2007.056 2.12\\2007.077 2.28\\2007.093 2.15\\2007.113 2.12\\2007.129 1.12\\2007.150 1.71\\2007.170 1.00\\2007.190 1.50\\2007.208 0.73\\2007.230 1.05\\2007.247 0.71\\2007.268 0.69\\2007.289 0.58\\2007.306 0.44\\2007.325 0.17\\2007.342 0.33\\2007.361 0.66\\2007.382 0.16\\2007.404 -0.34\\2007.423 -0.09\\2007.440 -0.11\\2007.459 -0.59\\2007.480 -0.45\\2007.500 -0.16\\2007.521 -0.45\\2007.538 -0.54\\2007.554 -0.52\\2007.574 -0.41\\2007.595 -0.06\\2007.611 -0.27\\2007.632 -0.77\\2007.652 -0.38\\2007.672 -0.20\\2007.688 -0.52\\2007.709 -0.45\\2007.730 -0.38\\2007.750 -0.43\\2007.766 -0.31\\2007.786 -0.19\\2007.807 -0.56\\2007.824 0.41\\2007.845 0.58\\2007.864 0.48\\2007.881 1.19\\2007.900 1.26\\2007.922 2.07\\2007.943 1.30\\2007.962 1.08\\2007.982 0.73\\2007.998 0.51\\2008.020 0.48\\2008.036 0.16\\2008.057 0.51\\2008.077 1.30\\2008.096 0.55\\2008.113 2.07\\2008.134 1.01\\2008.150 0.73\\2008.172 0.26\\2008.188 0.73\\2008.208 0.26\\2008.227 0.58\\2008.248 0.58\\2008.265 -0.02\\2008.286 0.05\\2008.306 0.12\\2008.325 0.23\\2008.346 0.73\\2008.363 0.62\\2008.384 -0.13\\2008.404 -0.33\\2008.420 -0.20\\2008.444 -0.27\\2008.461 -0.31\\2008.485 -0.48\\
2008.501 -0.56\\2008.521 -1.62\\2008.542 -1.59\\2008.559 -1.34\\2008.580 -1.13\\2008.596 -0.13\\2008.616 -0.56\\2008.635 -1.20\\2008.657 -0.98\\2008.681 -0.88\\2008.706 -0.45\\2008.727 0.69\\2008.746 -0.02\\2008.771 -1.09\\2008.792 0.26\\2008.809 -0.27\\2008.828 0.05\\2008.848 -0.56\\2008.864 -0.83\\2008.880 0.67\\2008.902 0.98\\2008.923 0.58\\2008.939 0.44\\2008.959 0.23\\2008.975 1.12\\2009.000 1.08\\2009.021 0.80\\2009.041 0.66\\2009.057 1.51\\2009.077 1.62\\2009.098 1.37\\2009.119 1.44\\2009.135 1.23\\2009.155 0.16\\2009.175 0.73\\2009.191 0.88\\2009.212 0.90\\2009.228 0.73\\2009.250 -0.16\\2009.273 -0.20\\2009.294 -0.13\\2009.310 1.05\\2009.331 0.58\\2009.351 0.09\\2009.371 -0.48\\2009.387 -0.91\\2009.403 -1.34\\2009.425 -1.37\\2009.441 -0.70\\2009.457 -1.16\\2009.474 -1.05\\2009.490 -1.13\\2009.506 -0.91\\2009.528 -1.04\\2009.544 -1.05\\2009.560 -1.45\\2009.580 -1.20\\2009.599 -1.30\\2009.616 -1.21\\2009.637 -1.18\\2009.653 -1.37\\2009.670 -0.98\\2009.686 -0.73\\2009.707 -0.63\\2009.727 -1.34\\2009.743 -0.91\\2009.760 -1.11\\2009.776 -1.41\\2009.792 -1.13\\2009.809 -0.70\\2009.825 1.15\\2009.844 0.67\\2009.866 1.01\\2009.887 0.23\\2009.903 -0.13\\2009.923 1.83\\2009.943 1.81\\2009.964 1.65\\2009.985 1.26\\2010.001 0.87\\2010.021 1.05\\2010.041 1.90\\2010.057 1.72\\2010.073 1.51\\2010.094 0.66\\2010.111 0.48\\2010.132 0.94\\2010.144 1.47\\2010.165 1.08\\2010.184 0.09\\2010.209 -0.13\\2010.230 0.16\\2010.250 -0.31\\2010.266 0.37\\2010.286 -0.13\\2010.299 0.30\\
2010.319 -0.16\\2010.340 -0.80\\2010.364 -0.45\\2010.384 -0.52\\2010.400 -0.70\\2010.422 -0.93\\2010.443 -0.84\\2010.462 -0.88\\2010.482 -0.86\\2010.498 -0.84\\2010.520 -1.54\\2010.541 -0.88\\2010.560 -1.34\\2010.580 -1.41\\2010.596 -1.52\\2010.618 -0.98\\2010.639 -1.30\\2010.655 -1.16\\2010.672 -0.84\\2010.691 -0.41\\2010.711 -1.41\\2010.727 -0.98\\2010.748 -0.27\\2010.770 -0.09\\2010.786 -0.48\\2010.806 0.09\\2010.825 -0.77\\2010.846 -0.27\\2010.868 -1.41\\2010.887 -0.63\\2010.907 -1.16\\2010.923 -0.09\\2010.940 1.87\\2010.961 1.85\\2010.982 0.94\\2011.002 1.44\\2011.018 1.26\\2011.038 -0.06\\2011.054 0.51\\2011.075 1.19\\2011.091 0.41\\2011.113 0.94\\2011.132 1.58\\2011.152 1.87\\2011.173 1.76\\2011.194 0.51\\2011.211 -0.24\\2011.230 -0.20\\2011.250 0.23\\2011.271 0.69\\2011.292 -0.13\\2011.312 0.01\\2011.332 -0.34\\2011.353 -0.66\\2011.369 -0.63\\2011.391 -1.05\\2011.410 -0.77\\2011.426 -0.91\\2011.443 -1.27\\2011.462 -1.05\\2011.479 -1.48\\2011.500 -1.41\\2011.521 -1.48\\2011.538 -1.62\\2011.557 -1.55\\2011.577 -1.69\\2011.598 -1.55\\2011.619 -1.59\\2011.639 -1.72\\2011.655 -1.55\\2011.675 -1.25\\2011.691 -1.80\\2011.707 -1.34\\2011.729 -0.70\\2011.750 -0.16\\
}\pCl

\pgfplotstableread[row sep=\\]{x y\\
2007.000 0.19\\2007.018 -0.02\\2007.039 0.51\\nan nan\\
2007.075 1.83\\2007.096 2.47\\2007.113 2.15\\2007.132 0.76\\2007.154 1.05\\2007.173 0.76\\2007.191 0.41\\2007.211 -0.16\\2007.230 0.05\\2007.247 -0.48\\2007.265 -0.59\\2007.284 -0.34\\2007.306 -1.02\\2007.325 -0.95\\2007.345 -0.13\\2007.361 -0.56\\2007.382 -0.95\\2007.404 -1.02\\2007.423 -0.95\\2007.440 -0.95\\2007.459 -0.88\\2007.480 -0.73\\2007.500 -0.63\\2007.521 -0.56\\2007.541 -0.52\\2007.562 -0.47\\2007.578 -0.28\\2007.596 -0.47\\2007.616 -0.48\\2007.632 -0.73\\2007.652 -0.48\\2007.672 -0.59\\2007.688 -0.56\\2007.709 -0.66\\2007.730 -0.61\\2007.750 -0.56\\2007.766 -0.66\\2007.786 -0.90\\2007.807 -0.90\\2007.824 -0.24\\2007.845 0.14\\nan nan\\
2007.877 0.51\\2007.900 -0.13\\2007.922 0.65\\2007.943 2.79\\2007.962 0.51\\2007.979 -0.13\\2007.998 1.69\\nan nan\\
2008.036 -0.83\\2008.057 -0.27\\2008.077 1.12\\2008.096 0.58\\2008.113 2.58\\2008.134 0.76\\2008.150 -0.06\\2008.172 -0.19\\nan nan\\
2008.208 -0.80\\2008.227 -0.06\\2008.248 -0.98\\2008.270 -1.02\\2008.289 -1.02\\2008.306 -0.88\\2008.325 -0.85\\2008.346 -0.59\\2008.363 -0.70\\2008.384 -0.93\\2008.404 -0.98\\2008.423 -1.02\\2008.444 -1.00\\2008.461 -0.91\\2008.485 -0.88\\
2008.501 -0.73\\2008.521 -0.77\\2008.542 -0.70\\2008.563 -0.77\\2008.580 -0.68\\2008.599 -0.75\\2008.619 -0.73\\2008.640 -0.77\\2008.661 -0.88\\2008.681 -0.84\\2008.701 -0.61\\2008.717 -0.02\\2008.730 1.05\\2008.750 -0.41\\2008.771 -0.52\\2008.792 0.55\\2008.812 0.16\\2008.828 0.23\\2008.848 -0.45\\2008.864 -0.80\\2008.885 2.12\\2008.907 1.26\\2008.923 1.01\\2008.943 0.44\\2008.959 0.23\\2008.980 1.97\\2009.000 0.66\\2009.021 0.30\\2009.037 -0.31\\2009.057 0.87\\2009.077 1.88\\2009.093 1.58\\2009.114 1.47\\2009.135 1.69\\2009.155 1.08\\2009.175 0.83\\2009.191 0.69\\2009.212 0.44\\2009.233 0.12\\2009.250 -0.48\\2009.269 -0.63\\2009.289 -0.41\\2009.305 -0.73\\2009.327 -0.16\\2009.343 -0.73\\2009.364 -0.63\\2009.384 -0.88\\2009.403 -0.98\\2009.425 -0.97\\2009.446 -0.88\\2009.465 -0.84\\2009.490 -0.88\\2009.506 -0.84\\2009.528 -0.90\\2009.547 -0.78\\2009.560 -0.56\\2009.580 -0.80\\2009.599 -0.85\\2009.621 -0.90\\2009.642 -0.84\\2009.661 -0.78\\2009.681 -0.75\\2009.697 -0.68\\2009.719 -0.84\\2009.740 -0.91\\2009.760 -0.91\\2009.779 -0.95\\2009.795 -0.91\\2009.809 -0.70\\2009.825 2.01\\2009.841 1.24\\2009.861 1.92\\2009.882 0.05\\2009.898 0.51\\2009.915 0.87\\2009.926 0.90\\2009.943 1.83\\2009.964 2.58\\2009.980 1.92\\nan nan\\
2010.008 1.44\\2010.037 2.35\\2010.057 1.55\\2010.078 1.55\\2010.094 1.08\\2010.119 1.06\\2010.139 1.44\\2010.152 1.65\\2010.171 0.58\\2010.193 -0.02\\2010.209 -0.31\\2010.230 -0.33\\nan nan\\
2010.274 0.30\\2010.299 -0.98\\2010.324 -0.91\\2010.348 -0.98\\2010.373 -0.93\\2010.400 -0.95\\2010.422 -0.91\\2010.443 -0.80\\2010.462 -0.78\\2010.482 -0.66\\2010.503 -0.52\\2010.520 -0.27\\2010.541 -0.48\\2010.564 -0.38\\2010.585 -0.33\\2010.601 -0.20\\2010.623 -0.38\\2010.642 -0.34\\2010.655 -0.54\\2010.675 -0.19\\2010.694 -0.34\\2010.711 -0.31\\2010.732 -0.48\\2010.753 -0.02\\2010.770 0.37\\2010.789 -0.27\\2010.809 -0.63\\2010.827 0.44\\2010.846 -0.48\\2010.868 -0.52\\2010.887 -0.45\\2010.907 -0.48\\2010.923 0.01\\2010.940 2.86\\2010.961 2.69\\2010.982 2.01\\2011.002 2.29\\2011.021 1.83\\2011.038 0.44\\2011.054 0.87\\2011.075 2.04\\2011.096 0.55\\2011.116 2.01\\2011.136 1.97\\2011.157 1.76\\2011.173 2.04\\2011.194 0.51\\2011.214 0.05\\2011.234 -0.20\\2011.255 -0.45\\2011.276 0.12\\2011.299 -0.20\\2011.325 -0.70\\2011.345 -0.66\\2011.364 -0.77\\2011.386 -0.77\\2011.407 -0.73\\2011.426 -0.84\\2011.443 -0.77\\2011.462 -0.80\\2011.484 -0.66\\2011.505 -0.59\\2011.524 -0.52\\2011.541 -0.31\\2011.557 -0.11\\2011.577 -0.24\\2011.598 -0.20\\2011.619 -0.24\\2011.639 -0.16\\2011.658 -0.20\\2011.680 -0.34\\2011.701 -0.24\\2011.721 -0.14\\2011.737 -0.16\\2011.753 -0.41\\2011.773 -0.34\\2011.789 -0.27\\2011.810 -0.52\\nan nan\\
2011.864 0.33\\2011.884 1.12\\nan nan\\
2011.941 1.62\\2011.962 2.44\\2011.982 2.76\\
}\pCa

\pgfplotsset{
  panel/.style={
    scale only axis, width=547pt, height=118pt, anchor=south west,
    xmin=2006.804, xmax=2012.167,
    axis x line*=box, axis y line*=left,
    axis line style={black!50, line width=0.5pt},
    xtick={2007,2008,2009,2010,2011,2012},
    xtick pos=left, ytick pos=left,
    tick align=outside, major tick length=3pt,
    tick style={black!50, line width=0.5pt},
    /pgf/number format/assume math mode=true,
    /pgf/number format/1000 sep={},
    ticklabel style={font=\fontsize{9.6}{11}\selectfont, inner sep=0pt},
    yticklabel style={rotate=90, anchor=base},
    xticklabel style={anchor=base},
    yticklabel shift=3pt,
    xticklabel shift=5.8pt,
    every axis title/.style={at={(0.5,1)}, anchor=base, yshift=2.75pt,
      font=\bfseries\fontsize{11.9}{14}\selectfont},
    unbounded coords=jump,
  },
  noah/.style={red, line width=1pt, line join=round},
  lprm/.style={blue, line width=1pt, line join=round},
  ascat/.style={black, line width=1pt, line join=round},
}

\begin{document}
\begin{tikzpicture}
\useasboundingbox (0,0) rectangle (564pt,437pt);

\begin{axis}[panel, at={(18.5pt,304.5pt)},
  ymin=-2.77, ymax=3.13, ytick={-2,-1,0,1,2,3},
  title={Kastamonu - Devrekani},
  legend style={at={(0.085,0.927)}, anchor=north west, draw=none, fill=none,
    font=\fontsize{7.5}{9}\selectfont, row sep=2pt, inner sep=0pt,
    nodes={inner sep=1pt, text height=5.5pt, text depth=0pt}},
  legend cell align=left,
  legend image code/.code={\draw[#1, line width=0.65pt, dash pattern=on 3.2pt off 2.2pt] (0pt,0pt) -- (14pt,0pt); \path (19pt,0pt);},
]
\addplot[noah] table {\pAn}; \addlegendentry{\textcolor{red}{NOAH}}
\addplot[lprm] table {\pAl}; \addlegendentry{\textcolor{blue}{LPRM}}
\addplot[ascat] table {\pAa}; \addlegendentry{\textcolor{black}{ASCAT}}
\end{axis}

\begin{axis}[panel, at={(18.5pt,158.15pt)},
  ymin=-3.51, ymax=2.94, ytick={-3,-2,-1,0,1,2},
  title={Edirne - Ipsala}]
\addplot[noah] table {\pBn};
\addplot[lprm] table {\pBl};
\addplot[ascat] table {\pBa};
\end{axis}

\begin{axis}[panel, at={(18.5pt,12pt)},
  ymin=-1.98, ymax=3.06, ytick={-1,0,1,2,3},
  title={Hatay - Reyhanli}]
\addplot[noah] table {\pCn};
\addplot[lprm] table {\pCl};
\addplot[ascat] table {\pCa};
\end{axis}
\end{tikzpicture}
\end{document}
